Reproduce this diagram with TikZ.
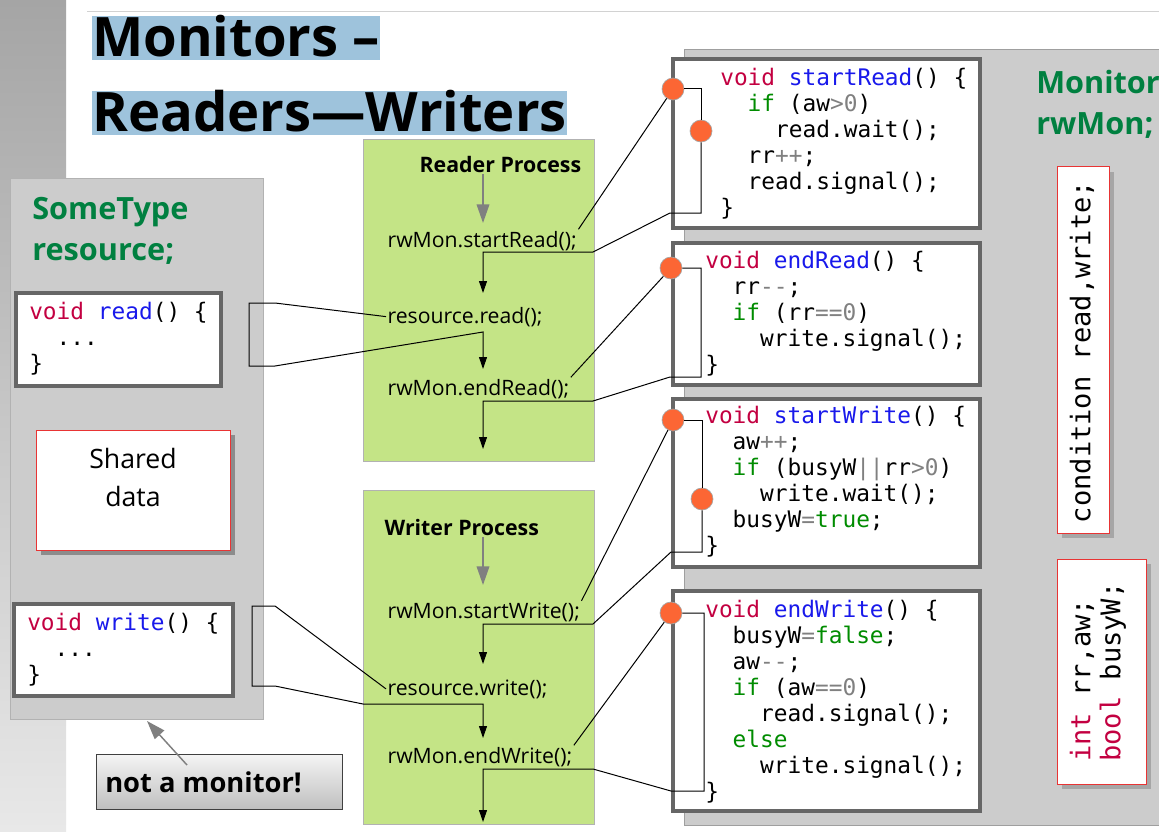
\documentclass[tikz,border=0pt]{standalone}
\usepackage{fontspec}
\setmainfont{Open Sans}
\newfontfamily\codefont{DejaVu Sans Mono}[Ligatures=TeXOff]
\usetikzlibrary{arrows.meta}

\definecolor{titleblue}{RGB}{158,195,220}
\definecolor{panelgray}{RGB}{204,204,204}
\definecolor{procgreen}{RGB}{196,228,134}
\definecolor{spotorange}{RGB}{252,102,52}
\definecolor{kwred}{RGB}{195,0,65}
\definecolor{fnblue}{RGB}{25,25,235}
\definecolor{ctlgreen}{RGB}{0,140,0}
\definecolor{opgray}{RGB}{128,128,128}
\definecolor{typegreen}{RGB}{0,128,64}
\definecolor{declred}{RGB}{232,52,52}
\definecolor{stripdark}{RGB}{165,165,165}
\definecolor{striplight}{RGB}{232,232,232}

\newcommand{\ckw}[1]{\textcolor{kwred}{#1}}
\newcommand{\cfn}[1]{\textcolor{fnblue}{#1}}
\newcommand{\cif}[1]{\textcolor{ctlgreen}{#1}}
\newcommand{\cop}[1]{\textcolor{opgray}{#1}}

\begin{document}
\begin{tikzpicture}[
    x=0.75pt, y=-0.75pt,
    heading/.style={anchor=base west, fill=titleblue, inner sep=0pt, text height=30.75pt, text depth=2.25pt, font=\fontsize{40.8}{44}\selectfont\bfseries},
    typename/.style={anchor=north west, align=left, inner sep=0pt, text=typegreen, font=\fontsize{23}{31}\selectfont\bfseries},
    procbox/.style={fill=procgreen, draw=gray!60},
    prochead/.style={anchor=base west, inner sep=1pt, font=\fontsize{16}{19}\selectfont\bfseries},
    procline/.style={anchor=base west, inner sep=1pt, font=\fontsize{15.9}{19}\selectfont},
    codeframe/.style={draw=black!60, line width=3pt, fill=white},
    codetext/.style={anchor=north west, align=left, inner sep=0pt, font=\codefont\fontsize{17.1}{19.5}\selectfont},
    decl/.style={draw=declred, line width=0.75pt, fill=white},
    decltext/.style={rotate=90, inner sep=0pt, font=\codefont\fontsize{20.3}{22.5}\selectfont},
    hotspot/.style={circle, fill=spotorange, draw=gray!70, line width=0.5pt, minimum size=16.5pt, inner sep=0pt},
    link/.style={line width=0.75pt},
    arrow/.style={link, -{Triangle[length=9pt,width=6pt]}},
    garrow/.style={draw=gray, line width=1.1pt, -{Triangle[length=14pt,width=9.5pt]}}
]
\useasboundingbox (0,0) rectangle (1159,831);
\fill[white] (0,0) rectangle (1159,831);
\shade[top color=stripdark, bottom color=striplight] (0,0) rectangle (66,831);
\draw[gray!35, line width=0.75pt] (87,11.5) -- (1159,11.5);

% title
\node[heading] (title1) at (92,57) {Monitors –};
\node[heading] (title2) at (92,132) {Readers—Writers};

% shared resource
\draw[fill=panelgray, draw=gray!60] (10,178) rectangle (263,719);
\node[typename] (restype) at (32,190) {\strut SomeType\\resource;};
\draw[codeframe] (16,293) rectangle (221,386);
\node[codetext] (readcode) at (29,300.8) {\strut\ckw{void} \cfn{read}() \{\\~~...\\\}};
\fill[black!45] (41,435) rectangle (235,555);
\draw[decl] (36,430) rectangle (230,550);
\node[anchor=north, align=center, inner sep=0pt, font=\fontsize{20}{28.5}\selectfont] (shared) at (133,441.4) {\strut Shared\\data};
\draw[codeframe] (14,604) rectangle (233,696);
\node[codetext] (writecode) at (27,611.8) {\strut\ckw{void} \cfn{write}() \{\\~~...\\\}};

% note
\shade[top color=gray!8, bottom color=gray!50, draw=black!75] (96,754) rectangle (342,809);
\node[anchor=base west, inner sep=0pt, font=\fontsize{20.5}{24}\selectfont\bfseries] (nomon) at (105,792) {not a monitor!};
\coordinate (notefoot) at (187,765);
\coordinate (panelfoot) at (147,721);
\draw[garrow] (notefoot) -- (panelfoot);

% processes
\draw[procbox] (363,139) rectangle (594,461);
\draw[procbox] (363,490) rectangle (594,824);
\node[prochead] (rhead) at (418,172) {Reader Process};
\node[procline] (srd) at (386,247) {rwMon.startRead();};
\node[procline] (rrd) at (386,323) {resource.read();};
\node[procline] (erd) at (386,395) {rwMon.endRead();};
\node[prochead] (whead) at (383,535) {Writer Process};
\node[procline] (swr) at (386,618) {rwMon.startWrite();};
\node[procline] (rwr) at (386,695) {resource.write();};
\node[procline] (ewr) at (386,763) {rwMon.endWrite();};

% monitor
\fill[panelgray] (684,50) rectangle (1159,825);
\draw[gray!75, line width=0.75pt] (1159,50) -- (684,50) -- (684,825) -- (1159,825);
\node[typename] (montype) at (1036,64.3) {\strut Monitor\\rwMon;};
\fill[black!35] (1062,172) rectangle (1114,538);
\draw[decl] (1057,167) rectangle (1109,533);
\node[decltext] (conds) at (1082,352) {condition read,write;};
\fill[black!35] (1062,564) rectangle (1151,789);
\draw[decl] (1057,559) rectangle (1146,784);
\node[decltext, anchor=west, align=left] (vars) at (1098,762) {\ckw{int} rr,aw;\\\ckw{bool} busyW;};

\draw[codeframe] (673,59) rectangle (980,228);
\draw[codeframe] (673,243) rectangle (980,385);
\draw[codeframe] (673,399) rectangle (980,567);
\draw[codeframe] (673,591) rectangle (980,811);
\node[codetext] (srcode) at (720,66.8) {\strut\ckw{void} \cfn{startRead}() \{\\
  ~~\cif{if} (aw\cop{>0})\\
  ~~~~read.wait();\\
  ~~rr\cop{++};\\
  ~~read.signal();\\
  \}};
\node[codetext] (ercode) at (705,249.8) {\strut\ckw{void} \cfn{endRead}() \{\\
  ~~rr\cop{--};\\
  ~~\cif{if} (rr\cop{==0})\\
  ~~~~write.signal();\\
  \}};
\node[codetext] (swcode) at (705,404.8) {\strut\ckw{void} \cfn{startWrite}() \{\\
  ~~aw\cop{++};\\
  ~~\cif{if} (busyW\cop{||}rr\cop{>0})\\
  ~~~~write.wait();\\
  ~~busyW\cop{=}\cif{true};\\
  \}};
\node[codetext] (ewcode) at (705,598.8) {\strut\ckw{void} \cfn{endWrite}() \{\\
  ~~busyW\cop{=}\cif{false};\\
  ~~aw\cop{--};\\
  ~~\cif{if} (aw\cop{==0})\\
  ~~~~read.signal();\\
  ~~\cif{else}\\
  ~~~~write.signal();\\
  \}};

\node[hotspot] (sr1) at (673,89) {};
\node[hotspot] (sr2) at (701,131) {};
\node[hotspot] (er1) at (671,268) {};
\node[hotspot] (sw1) at (673,420) {};
\node[hotspot] (sw2) at (702,499) {};
\node[hotspot] (ew1) at (671,613) {};

% arrow tips
\coordinate (rin) at (483,223);
\coordinate (rtip1) at (483,293);
\coordinate (rtip2) at (483,369);
\coordinate (rtip3) at (483,449);
\coordinate (win) at (483,585);
\coordinate (wtip1) at (483,664);
\coordinate (wtip2) at (483,738);
\coordinate (wtip3) at (483,822);

\draw[garrow] (rin |- rhead.south) -- (rin);
\draw[garrow] (win |- whead.south) -- (win);

% reader
\draw[link] (srd.north east) -- (sr1);
\draw[link] (sr1.east) -| (sr2.north);
\draw[arrow] (sr2.south) |- (670,213) -- (593,252) -| (rtip1);
\draw[arrow] (rrd.west) -- (275,303) -- (249,303) -- (249,366) -- (275,366) -- (483,332) -- (rtip2);
\draw[link] (erd.north east) -- (er1);
\draw[arrow] (er1.east) -- (701,268) |- (670,377) -- (593,401) -| (rtip3);

% writer
\draw[link] (swr.north east) -- (sw1);
\draw[link] (sw1.east) -| (sw2.north);
\draw[arrow] (sw2.south) |- (671,552) -- (593,624) -| (wtip1);
\draw[arrow] (rwr.west) -- (275,606) -- (252,606) -- (252,686) -- (275,686) -- (363,704) -| (wtip2);
\draw[link] (ewr.north east) -- (ew1);
\draw[arrow] (ew1.east) -- (704,613) |- (671,791) -- (593,769) -| (wtip3);

\end{tikzpicture}
\end{document}
